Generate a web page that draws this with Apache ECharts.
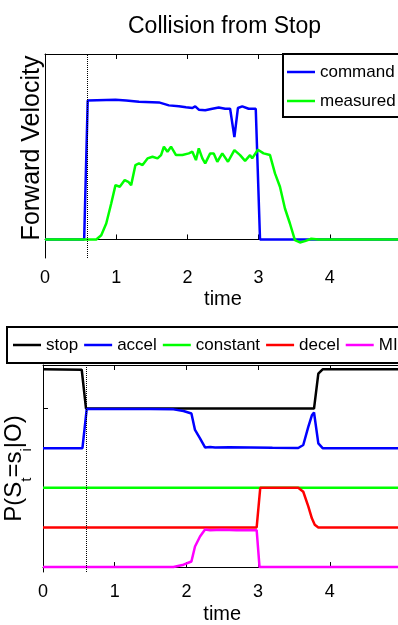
<!DOCTYPE html>
<html><head><meta charset="utf-8">
<script src="https://cdn.jsdelivr.net/npm/echarts@6/dist/echarts.min.js"></script>
<style>html,body{margin:0;padding:0;background:#fff}#c{width:398px;height:625px}</style>
</head><body><div id="c"></div>
<script>
// ---- data ----
const titleText = 'Collision from Stop';
const eventTime = 0.6;
const timeMin = 0, timeMax = 5;
const xTickStep = 1;

const cmdTime = [0, 0.55, 0.60, 0.99, 1.14, 1.32, 1.60, 1.74, 1.88, 1.98, 2.07, 2.11, 2.16, 2.25, 2.35, 2.44, 2.53, 2.60, 2.66, 2.71, 2.77, 2.86, 2.96, 3.02, 5];
const cmdVel  = [0, 0, 0.749, 0.753, 0.749, 0.742, 0.739, 0.723, 0.718, 0.713, 0.709, 0.718, 0.700, 0.697, 0.705, 0.711, 0.705, 0.705, 0.552, 0.709, 0.718, 0.705, 0.705, 0, 0];

const measTime = [0, 0.72, 0.79, 0.86, 0.93, 0.99, 1.05, 1.12, 1.17, 1.21, 1.27, 1.32, 1.37, 1.44, 1.51, 1.58, 1.63, 1.67, 1.72, 1.77, 1.84, 1.93, 2.02, 2.07, 2.12, 2.16, 2.21, 2.25, 2.32, 2.37, 2.42, 2.49, 2.57, 2.66, 2.74, 2.81, 2.88, 2.91, 2.99, 3.07, 3.16, 3.23, 3.30, 3.37, 3.44, 3.51, 3.58, 3.65, 3.74, 3.84, 5];
const measVel  = [0, 0, 0.023, 0.086, 0.194, 0.293, 0.284, 0.320, 0.311, 0.293, 0.401, 0.410, 0.401, 0.437, 0.446, 0.437, 0.455, 0.500, 0.473, 0.500, 0.455, 0.455, 0.464, 0.473, 0.428, 0.491, 0.437, 0.410, 0.464, 0.464, 0.419, 0.464, 0.419, 0.482, 0.455, 0.424, 0.455, 0.437, 0.484, 0.464, 0.455, 0.356, 0.284, 0.167, 0.086, -0.004, -0.016, -0.009, 0.004, 0, 0];

const stateNames = ['stop', 'accel', 'constant', 'decel', 'MI'];
const stopTime = [0, 0.54, 0.60, 3.78, 3.84, 3.90, 5];
const stopProb = [0.99, 0.98, 0, 0, 0.88, 0.99, 0.99];
const accelTime = [0, 0.55, 0.61, 1.0, 1.5, 1.82, 1.96, 2.07, 2.12, 2.19, 2.26, 2.33, 2.4, 2.6, 2.9, 3.2, 3.56, 3.63, 3.70, 3.75, 3.78, 3.84, 3.90, 5];
const accelProb = [0, 0, 0.99, 0.99, 0.99, 0.98, 0.94, 0.875, 0.46, 0.25, 0.02, 0.03, 0.02, 0.025, 0.02, 0.01, 0.005, 0.08, 0.54, 0.83, 0.9, 0.12, 0, 0];
const constTime = [0, 5];
const constProb = [0, 0];
const decelTime = [0, 2.98, 3.03, 3.56, 3.63, 3.70, 3.75, 3.79, 3.84, 5];
const decelProb = [0, 0, 1, 1, 0.9, 0.53, 0.23, 0.07, 0, 0];
const miTime = [0, 1.82, 1.96, 2.07, 2.12, 2.19, 2.26, 2.33, 2.5, 2.7, 2.98, 3.02, 5];
const miProb = [0, 0, 0.06, 0.14, 0.52, 0.77, 0.95, 0.93, 0.94, 0.93, 0.93, 0, 0];

// ---- styling / layout ----
const FONT = 'Liberation Sans, Arial, Helvetica, sans-serif';
const stateColors = ['#000000', '#0000ff', '#00ff00', '#ff0000', '#ff00ff'];
const stateOffsets = [4, 3, 2, 1, 0]; // vertical stacking of state traces
const stateData = [[stopTime, stopProb], [accelTime, accelProb], [constTime, constProb], [decelTime, decelProb], [miTime, miProb]];

const pairs = (t, v, off) => t.map((x, i) => [x, v[i] + (off || 0)]);

const axisLineStyle = { show: true, lineStyle: { color: '#000', width: 1 } };
const tickStyle = { show: true, inside: true, length: 5, lineStyle: { color: '#000', width: 1 } };
const dotted = {
  symbol: 'none', silent: true, label: { show: false },
  lineStyle: { type: 'dotted', color: '#000', width: 1 },
  data: [{ xAxis: eventTime }]
};

function xAxes(gridIndex, gap) {
  return [{
    type: 'value', gridIndex, min: timeMin, max: timeMax, interval: xTickStep, position: 'bottom',
    axisLine: axisLineStyle, axisTick: tickStyle, splitLine: { show: false },
    axisLabel: { show: true, showMaxLabel: false, fontSize: 18, color: '#000', fontFamily: FONT, margin: 11 },
    name: 'time', nameLocation: 'middle', nameGap: gap,
    nameTextStyle: { fontSize: 20, color: '#000', fontFamily: FONT }
  }, {
    type: 'value', gridIndex, min: timeMin, max: timeMax, interval: xTickStep, position: 'top',
    axisLine: axisLineStyle, axisTick: tickStyle, splitLine: { show: false }, axisLabel: { show: false }
  }];
}

const series = [
  { name: 'command', type: 'line', xAxisIndex: 0, yAxisIndex: 0, data: pairs(cmdTime, cmdVel), symbol: 'none',
    lineStyle: { color: '#0000ff', width: 2.5 }, itemStyle: { color: '#0000ff' }, markLine: dotted },
  { name: 'measured', type: 'line', xAxisIndex: 0, yAxisIndex: 0, data: pairs(measTime, measVel), symbol: 'none',
    lineStyle: { color: '#00ff00', width: 2.5 }, itemStyle: { color: '#00ff00' } }
];
stateNames.forEach((n, i) => {
  series.push({
    name: n, type: 'line', xAxisIndex: 2, yAxisIndex: 1,
    data: pairs(stateData[i][0], stateData[i][1], stateOffsets[i]), symbol: 'none',
    lineStyle: { color: stateColors[i], width: 2.5 }, itemStyle: { color: stateColors[i] },
    markLine: i === 0 ? dotted : undefined
  });
});

const legendText = { fontSize: 17, lineHeight: 18, color: '#000', fontFamily: FONT };

const chart = echarts.init(document.getElementById('c'), null, { renderer: 'canvas' });
chart.setOption({
  animation: false,
  backgroundColor: '#fff',
  title: { text: titleText, left: 128, top: 15, padding: 0,
    textStyle: { fontSize: 23, fontWeight: 'normal', color: '#000', fontFamily: FONT } },
  grid: [
    { left: 45, top: 54, width: 356, height: 204, outerBoundsMode: 'none', containLabel: false },
    { left: 43, top: 365, width: 358.5, height: 207, outerBoundsMode: 'none', containLabel: false }
  ],
  xAxis: [...xAxes(0, 31), ...xAxes(1, 32)],
  yAxis: [{
    type: 'value', gridIndex: 0, min: -0.1, max: 1.0,
    axisLine: axisLineStyle, axisTick: { show: false }, axisLabel: { show: false }, splitLine: { show: false },
    name: 'Forward Velocity', nameLocation: 'middle', nameGap: 0,
    nameTextStyle: { fontSize: 25, color: '#000', fontFamily: FONT, padding: [0, 0, 0, 16] }
  }, {
    type: 'value', gridIndex: 1, min: -0.125, max: 5.1,
    axisLine: axisLineStyle,
    axisTick: { show: true, inside: true, length: 5, customValues: [0, 1, 2, 3, 4, 5], lineStyle: { color: '#000' } },
    axisLabel: { show: false }, splitLine: { show: false },
    name: '{m|P(S}{s|t}{m|=s}{s|i}{m||O)}', nameLocation: 'middle', nameGap: 9,
    nameTextStyle: {
      color: '#000', fontFamily: FONT,
      rich: {
        m: { fontSize: 24, lineHeight: 32, verticalAlign: 'top', color: '#000', fontFamily: FONT },
        s: { fontSize: 15, lineHeight: 15, verticalAlign: 'bottom', color: '#000', fontFamily: FONT }
      }
    }
  }],
  legend: [{
    data: ['command', 'measured'], orient: 'vertical', left: 283, top: 54, width: 300,
    icon: 'rect', itemWidth: 28, itemHeight: 2.5,
    padding: [9, 6, 7, 4], itemGap: 11,
    borderColor: '#000', borderWidth: 2, backgroundColor: '#fff', selectedMode: false,
    textStyle: legendText
  }, {
    data: stateNames, orient: 'horizontal', left: 7, top: 327, width: 600,
    icon: 'rect', itemWidth: 28, itemHeight: 2.5,
    padding: [9, 6, 9, 6], itemGap: 6,
    borderColor: '#000', borderWidth: 2, backgroundColor: '#fff', selectedMode: false,
    textStyle: legendText
  }],
  series
});
</script>
</body></html>
